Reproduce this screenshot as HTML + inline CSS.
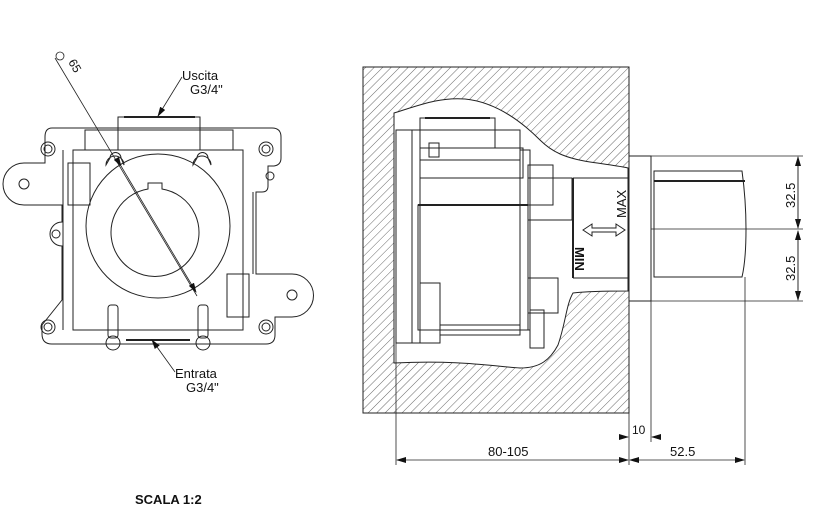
<!DOCTYPE html>
<html><head><meta charset="utf-8"><style>
html,body{margin:0;padding:0;background:#fff}
svg{display:block}
text{font-family:"Liberation Sans",sans-serif;fill:#111}
</style></head><body>
<svg width="830" height="520" viewBox="0 0 830 520" xmlns="http://www.w3.org/2000/svg">
<defs>
<pattern id="h" width="6" height="6" patternUnits="userSpaceOnUse" patternTransform="rotate(45)">
<line x1="0" y1="0" x2="0" y2="6" stroke="#444" stroke-width="0.8"/>
</pattern>
<marker id="a" markerWidth="10" markerHeight="6" refX="9" refY="3" orient="auto" markerUnits="userSpaceOnUse"><path d="M0,0 L10,3 L0,6z" fill="#111"/></marker>
</defs>
<g fill="none" stroke="#222" stroke-width="1">
<!-- LEFT VIEW -->
<path d="M52,128 H272 Q281,128 281,137 V158 Q281,165 274,166 L268,166 V186 Q268,192 262,192 H256 V274 H292 A21.5,21.5 0 0 1 292,317 H275 V335 Q275,344 266,344 H52 Q42,344 42,334 V325 L62,300 V246 A9,9 0 0 1 62,222 V205 H24 A21,21 0 0 1 24,163 H45 V137 Q45,128 52,128 Z"/>
<rect x="73" y="150" width="170" height="180"/>
<rect x="85" y="130" width="148" height="20"/>
<rect x="118" y="117" width="82" height="33"/>
<line x1="124" y1="117" x2="195" y2="117" stroke-width="2"/>
<line x1="63" y1="150" x2="63" y2="330"/>
<line x1="253" y1="192" x2="253" y2="274"/>
<line x1="75" y1="330" x2="240" y2="330"/>
<circle cx="158" cy="226" r="72"/>
<path d="M148,189 A44,44 0 1 0 162,189 V183 H148 Z"/>
<path d="M106,165 A9,9 0 1 1 124,165 L121,158 A5,5 0 1 0 110,158 Z"/>
<path d="M193,165 A9,9 0 1 1 211,165 L208,158 A5,5 0 1 0 197,158 Z"/>
<rect x="108" y="305" width="10" height="33" rx="3"/>
<rect x="198" y="305" width="10" height="33" rx="3"/>
<circle cx="113" cy="343" r="7"/><circle cx="203" cy="343" r="7"/>
<line x1="126" y1="340" x2="190" y2="340" stroke-width="2"/>
<rect x="68" y="163" width="22" height="42"/>
<rect x="227" y="274" width="22" height="43"/>
<circle cx="48" cy="149" r="7"/><circle cx="48" cy="149" r="4"/>
<circle cx="266" cy="149" r="7"/><circle cx="266" cy="149" r="4"/>
<circle cx="48" cy="327" r="7"/><circle cx="48" cy="327" r="4"/>
<circle cx="266" cy="327" r="7"/><circle cx="266" cy="327" r="4"/>
<circle cx="24" cy="184" r="5"/><circle cx="292" cy="295" r="5"/>
<circle cx="56" cy="234" r="4"/><circle cx="270" cy="176" r="4"/>
<line x1="55" y1="58" x2="197" y2="296" stroke-width="0.8"/>
<line x1="121" y1="166" x2="196" y2="292" stroke-width="0.8" marker-end="url(#a)" marker-start="url(#a)"/>
<circle cx="60" cy="56" r="4" stroke-width="0.8"/>
<line x1="182" y1="77" x2="158" y2="116" stroke-width="0.8" marker-end="url(#a)"/>
<line x1="175" y1="372" x2="152" y2="340" stroke-width="0.8" marker-end="url(#a)"/>
</g>
<text x="182" y="80" font-size="13">Uscita</text>
<text x="190" y="94" font-size="13">G3/4"</text>
<text x="175" y="378" font-size="13">Entrata</text>
<text x="186" y="392" font-size="13">G3/4"</text>
<text x="68" y="62" font-size="12" transform="rotate(60 68 62)">65</text>
<text x="135" y="504" font-size="13" font-weight="bold">SCALA  1:2</text>

<!-- RIGHT VIEW -->
<path d="M363,67 H629 V413 H363 Z M394,113 C420,105 440,97 465,99 C495,102 520,120 540,140 C552,152 565,158 590,162 C610,165 620,166 628,168 V291 C610,291 590,291 573,293 C566,305 566,322 558,345 C550,360 540,368 520,368 C490,366 460,360 394,363 Z" fill="url(#h)" fill-rule="evenodd" stroke="#222"/>
<g fill="none" stroke="#222" stroke-width="1">
<rect x="396" y="130" width="16" height="213"/>
<rect x="412" y="130" width="8" height="213"/>
<rect x="420" y="118" width="75" height="30"/>
<line x1="425" y1="118" x2="490" y2="118" stroke-width="2"/>
<rect x="420" y="130" width="100" height="30"/>
<rect x="420" y="148" width="103" height="30"/>
<rect x="528" y="165" width="25" height="40"/>
<rect x="520" y="150" width="10" height="180"/>
<rect x="418" y="205" width="110" height="125"/>
<line x1="418" y1="205" x2="528" y2="205" stroke-width="2"/>
<rect x="528" y="178" width="44" height="42"/>
<rect x="528" y="278" width="30" height="35"/>
<rect x="530" y="310" width="14" height="38"/>
<rect x="420" y="283" width="20" height="60"/>
<rect x="440" y="325" width="80" height="10"/>
<rect x="429" y="143" width="10" height="14"/>
<line x1="573" y1="178" x2="573" y2="278" stroke-width="2"/>
<line x1="573" y1="178" x2="628" y2="178"/>
<line x1="573" y1="278" x2="628" y2="278"/>
<path d="M583,230 L592,224 V228 H616 V224 L625,230 L616,236 V232 H592 V236 Z"/>
<rect x="629" y="156" width="22" height="145"/>
<path d="M654,171 H742 Q746,200 746,229 Q746,260 742,277 H654 Z"/>
<line x1="654" y1="181" x2="745" y2="181" stroke-width="2"/>
<line x1="651" y1="156" x2="803" y2="156" stroke-width="0.8"/>
<line x1="651" y1="301" x2="803" y2="301" stroke-width="0.8"/>
<line x1="651" y1="229" x2="803" y2="229" stroke-width="0.8"/>
<line x1="798" y1="160" x2="798" y2="228" stroke-width="0.8" marker-end="url(#a)"/>
<line x1="798" y1="225" x2="798" y2="157" stroke-width="0.8" marker-end="url(#a)"/>
<line x1="798" y1="232" x2="798" y2="300" stroke-width="0.8" marker-end="url(#a)"/>
<line x1="798" y1="298" x2="798" y2="231" stroke-width="0.8" marker-end="url(#a)"/>
<line x1="396" y1="343" x2="396" y2="465" stroke-width="0.8"/>
<line x1="629" y1="413" x2="629" y2="465" stroke-width="0.8"/>
<line x1="651" y1="301" x2="651" y2="442" stroke-width="0.8"/>
<line x1="745" y1="277" x2="745" y2="465" stroke-width="0.8"/>
<line x1="620" y1="437" x2="628" y2="437" stroke-width="0.8" marker-end="url(#a)"/>
<line x1="660" y1="437" x2="652" y2="437" stroke-width="0.8" marker-end="url(#a)"/>
<line x1="512" y1="460" x2="397" y2="460" stroke-width="0.8" marker-end="url(#a)"/>
<line x1="512" y1="460" x2="628" y2="460" stroke-width="0.8" marker-end="url(#a)"/>
<line x1="687" y1="460" x2="630" y2="460" stroke-width="0.8" marker-end="url(#a)"/>
<line x1="687" y1="460" x2="744" y2="460" stroke-width="0.8" marker-end="url(#a)"/>
</g>
<text x="0" y="0" font-size="13" transform="translate(626,218) rotate(-90)">MAX</text>
<text x="0" y="0" font-size="13" font-weight="bold" transform="translate(575,247) rotate(90)">MIN</text>
<text x="0" y="0" font-size="13" transform="translate(795,208) rotate(-90)">32.5</text>
<text x="0" y="0" font-size="13" transform="translate(795,281) rotate(-90)">32.5</text>
<text x="632" y="434" font-size="12">10</text>
<text x="488" y="456" font-size="13">80-105</text>
<text x="670" y="456" font-size="13">52.5</text>
</svg>
</body></html>
